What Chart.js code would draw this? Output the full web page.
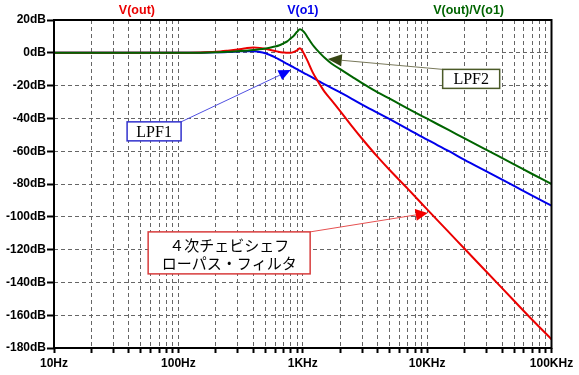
<!DOCTYPE html>
<html><head><meta charset="utf-8">
<script src="https://cdn.jsdelivr.net/npm/chart.js@4"></script>
<style>html,body{margin:0;padding:0;background:#fff;}canvas{display:block;}</style>
</head><body>
<canvas id="c" width="579" height="375" style="width:579px;height:375px"></canvas>
<script>
// ---- data ----
const freqs = [10,20,50,100,150,200,250,300,350,400,450,500,550,600,650,700,750,800,850,900,950,1000,1050,1100,1200,1300,1400,1500,1700,2000,2500,3000,4000,5000,7000,10000,15000,20000,30000,50000,70000,100000];
const vOut  = [0,0,0,0,0.2,0.6,1.3,2.0,2.8,3.2,3.0,2.4,1.7,1.1,0.5,0.2,0.0,0.0,0.6,1.5,2.7,0.8,-2.3,-5.4,-11.8,-16.5,-20.4,-23.8,-28.8,-35.5,-45.0,-52.4,-63.5,-71.5,-83.0,-95.5,-109.5,-119.5,-133.5,-151.2,-162.8,-174.7];
const vO1   = [0,0,0,0,0.1,0.3,0.5,0.8,1.0,0.9,0.5,-0.3,-1.5,-2.8,-4.2,-5.5,-6.8,-7.9,-9.0,-10.0,-11.0,-11.9,-12.8,-13.6,-15.2,-16.7,-18.0,-19.2,-21.4,-24.2,-28.2,-31.6,-36.6,-40.5,-46.5,-53.0,-60.0,-65.3,-72.3,-81.2,-87.1,-93.2];
const ratio = [0,0,0,0,0.1,0.3,0.6,0.9,1.3,1.7,2.1,2.6,3.2,3.8,4.6,5.8,7.0,8.8,10.5,12.8,14.3,13.4,11.6,9.2,4.9,1.8,-0.8,-3.0,-6.5,-10.0,-14.7,-18.5,-24.2,-28.0,-34.0,-40.2,-47.2,-52.2,-59.2,-68.0,-73.9,-80.0];
const seriesNames = ['V(out)','V(o1)','V(out)/V(o1)'];
const xDecades = [10,100,1000,10000,100000];
const xTickLabels = ['10Hz','100Hz','1KHz','10KHz','100KHz'];
const yMin = -180, yMax = 20, yStep = 20;
const annoTexts = [['LPF2'],['LPF1'],['４次チェビシェフ','ローパス・フィルタ']];

// ---- styles / layout ----
const colors = ['rgb(235,0,0)','rgb(0,0,235)','rgb(0,100,0)'];
const drawOrder = [1,2,0];
const titleFrac = [1/6,1/2,5/6];
const gridColor = '#666666';
const gridDash = [4,3];
const annoStyle = [
  {tip:[1589,-3.8], box:[22600,-15.9], w:57, h:19, corner:'tl', line:'rgb(120,120,90)', head:'rgb(55,70,20)', border:'rgb(75,90,40)', font:'16px "Liberation Serif", serif', hl:14, hw:6},
  {tip:[800,-10.5], box:[63.8,-47.9], w:54, h:19, corner:'tr', line:'rgb(80,80,225)', head:'rgb(0,0,250)', border:'rgb(50,50,205)', font:'16px "Liberation Serif", serif', hl:12, hw:5.5},
  {tip:[10100,-97.7], box:[256,-122], w:162, h:42, corner:'tr', line:'rgb(230,80,80)', head:'rgb(245,0,0)', border:'rgb(215,60,60)', font:'15px "Noto Sans CJK JP", sans-serif', hl:12, hw:6}
];

const pts = v => freqs.map((f,i)=>({x:f,y:v[i]}));

const framePlugin = {
  id:'frame',
  afterDraw(chart){
    const {ctx, chartArea:a, scales} = chart;
    ctx.save();
    ctx.strokeStyle='#000'; ctx.lineWidth=2;
    ctx.strokeRect(a.left, a.top, a.right-a.left, a.bottom-a.top);
    // series titles
    ctx.font='bold 12.5px "Liberation Sans", Arial, sans-serif';
    ctx.textAlign='center'; ctx.textBaseline='middle';
    seriesNames.forEach((n,i)=>{
      ctx.fillStyle=colors[i];
      ctx.fillText(n, a.left+(a.right-a.left)*titleFrac[i], 11);
    });
    // annotations
    const X=scales.x, Y=scales.y;
    annoStyle.forEach((s,i)=>{
      const tx=X.getPixelForValue(s.tip[0]), ty=Y.getPixelForValue(s.tip[1]);
      const cx=X.getPixelForValue(s.box[0]), cy=Y.getPixelForValue(s.box[1]);
      const bl=cx-s.w/2, bt=cy-s.h/2;
      const sx = s.corner==='tl'? bl : bl+s.w, sy=bt;
      const ang=Math.atan2(ty-sy, tx-sx);
      const bx=tx-Math.cos(ang)*s.hl, by=ty-Math.sin(ang)*s.hl;
      ctx.strokeStyle=s.line; ctx.lineWidth=1;
      ctx.beginPath(); ctx.moveTo(sx,sy); ctx.lineTo(bx,by); ctx.stroke();
      ctx.fillStyle=s.head;
      ctx.beginPath(); ctx.moveTo(tx,ty);
      ctx.lineTo(bx+Math.sin(ang)*s.hw, by-Math.cos(ang)*s.hw);
      ctx.lineTo(bx-Math.sin(ang)*s.hw, by+Math.cos(ang)*s.hw);
      ctx.closePath(); ctx.fill();
      ctx.fillStyle='#fff'; ctx.fillRect(bl,bt,s.w,s.h);
      ctx.strokeStyle=s.border; ctx.lineWidth=1.5;
      ctx.strokeRect(bl,bt,s.w,s.h);
      ctx.fillStyle='#000'; ctx.font=s.font;
      const lines=annoTexts[i], lh=18;
      lines.forEach((t,k)=>ctx.fillText(t, cx, cy+(k-(lines.length-1)/2)*lh+1));
    });
    ctx.restore();
  }
};

new Chart(document.getElementById('c'), {
  type:'line',
  data:{datasets:[vOut,vO1,ratio].map((v,i)=>({
    label:seriesNames[i], data:pts(v), borderColor:colors[i], borderWidth:2,
    pointRadius:0, fill:false, cubicInterpolationMode:'monotone', order:drawOrder[i]
  }))},
  options:{
    responsive:false, animation:false, devicePixelRatio:1,
    layout:{padding:{top:20,right:27.5,left:0,bottom:0}},
    plugins:{legend:{display:false}, tooltip:{enabled:false}},
    scales:{
      x:{type:'logarithmic', min:xDecades[0], max:xDecades[xDecades.length-1],
        afterBuildTicks(scale){
          const t=[];
          xDecades.forEach((d,i)=>{t.push({value:d}); if(i<xDecades.length-1) for(let m=2;m<10;m++) t.push({value:d*m});});
          scale.ticks=t;
        },
        afterFit(s){s.height=27;},
        ticks:{autoSkip:false, maxRotation:0, minRotation:0, padding:3, color:'#000',
          font:{family:'"Liberation Sans", Arial, sans-serif', size:12, weight:'bold'},
          callback(v){const i=xDecades.indexOf(v); return i>=0? xTickLabels[i]:'';}},
        grid:{color:gridColor, lineWidth:1, tickColor:'#000', tickWidth:2, tickLength:5, tickBorderDash:[]},
        border:{display:false, dash:gridDash}
      },
      y:{type:'linear', min:yMin, max:yMax,
        afterFit(s){s.width=54;},
        ticks:{stepSize:yStep, padding:1, color:'#000',
          font:{family:'"Liberation Sans", Arial, sans-serif', size:12, weight:'bold'},
          callback(v){return v+'dB';}},
        grid:{color:gridColor, lineWidth:1, tickColor:'#000', tickWidth:2, tickLength:7, tickBorderDash:[]},
        border:{display:false, dash:gridDash}
      }
    }
  },
  plugins:[framePlugin]
});
</script>
</body></html>
